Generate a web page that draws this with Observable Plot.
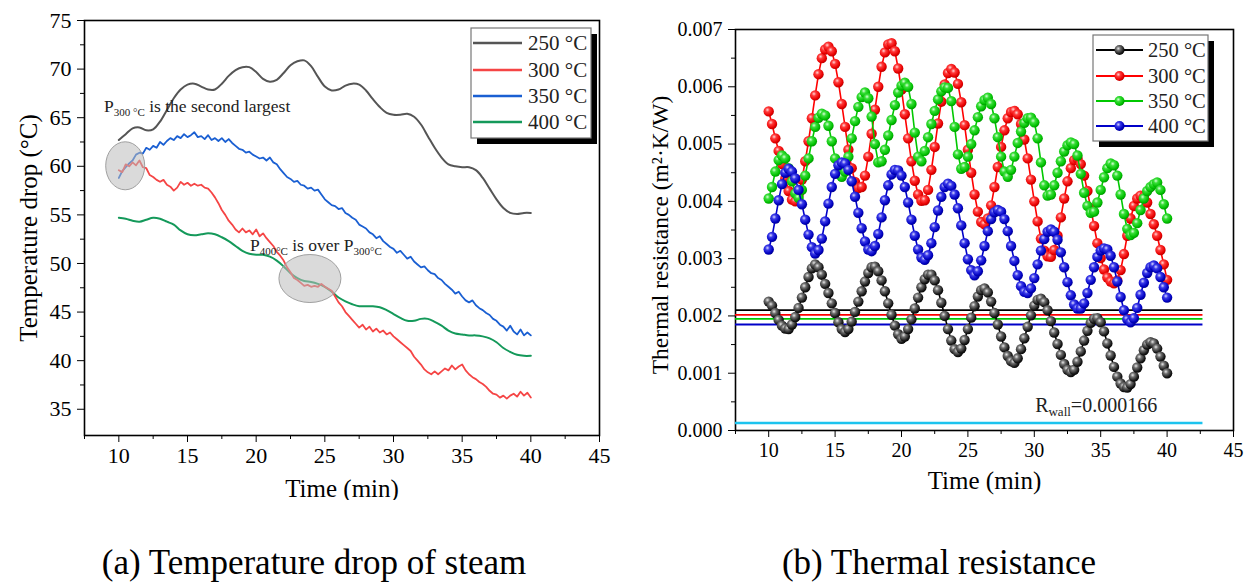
<!DOCTYPE html>
<html><head><meta charset="utf-8">
<script src="https://cdn.jsdelivr.net/npm/d3@7"></script>
<script src="https://cdn.jsdelivr.net/npm/@observablehq/plot@0.6"></script>
<style>
body{margin:0;background:#fff;}
#wrap{position:relative;width:1244px;height:583px;overflow:hidden;font-family:"Liberation Serif",serif;color:#000;background:#fff;}
#a{position:absolute;left:0;top:0;}
#b{position:absolute;left:630px;top:0;}
.cap{position:absolute;top:543px;font-size:35px;line-height:40px;white-space:nowrap;transform:translateX(-50%);}
</style></head>
<body>
<svg width="0" height="0" style="position:absolute"><defs>
<radialGradient id="gBlack" cx="0.38" cy="0.35" r="0.7"><stop offset="0" stop-color="#e8e8e8"/><stop offset="0.3" stop-color="#707070"/><stop offset="0.75" stop-color="#1a1a1a"/><stop offset="1" stop-color="#000"/></radialGradient>
<radialGradient id="gRed" cx="0.38" cy="0.35" r="0.7"><stop offset="0" stop-color="#ffd8d8"/><stop offset="0.3" stop-color="#ff3a3a"/><stop offset="0.75" stop-color="#e80000"/><stop offset="1" stop-color="#b00000"/></radialGradient>
<radialGradient id="gGreen" cx="0.38" cy="0.35" r="0.7"><stop offset="0" stop-color="#d8ffd8"/><stop offset="0.3" stop-color="#3ade3a"/><stop offset="0.75" stop-color="#00c000"/><stop offset="1" stop-color="#008a00"/></radialGradient>
<radialGradient id="gBlue" cx="0.38" cy="0.35" r="0.7"><stop offset="0" stop-color="#d8d8ff"/><stop offset="0.3" stop-color="#3a3ae8"/><stop offset="0.75" stop-color="#0000c0"/><stop offset="1" stop-color="#000088"/></radialGradient>
</defs></svg>
<div id="wrap">
<div id="a"></div><div id="b"></div>
<div class="cap" style="left:314px">(a) Temperature drop of steam</div>
<div class="cap" style="left:939px">(b) Thermal resistance</div>
</div>
<script>
// ---------- data ----------
const seriesLabels = ["250 °C", "300 °C", "350 °C", "400 °C"];
const tHalf = d3.range(61).map(i => 10 + i * 0.5);      // sampling times (min), 0.5 min step
const tQuarter = d3.range(121).map(i => 10 + i * 0.25); // sampling times (min), 0.25 min step

// (a) temperature drop (°C)
const drop250 = [62.7,63.3,63.9,64.0,63.7,63.8,64.6,65.8,67.0,67.9,68.4,68.5,68.2,67.9,67.9,68.5,69.3,69.9,70.2,70.2,69.7,69.0,68.7,68.9,69.6,70.4,70.8,70.9,70.3,69.2,68.2,67.8,67.9,68.3,68.5,68.4,67.8,66.9,66.1,65.5,65.3,65.3,65.4,65.1,64.3,63.1,61.9,60.9,60.2,60.0,59.9,59.9,59.6,58.8,57.7,56.6,55.7,55.2,55.1,55.2,55.2];
const drop300 = [59.6,59.4,60.2,60.0,60.4,60.1,60.6,59.9,
 59.8,59.1,58.9,58.6,58.4,58.6,58.1,57.9,
 57.5,57.8,58.4,58.1,58.3,58.0,58.2,58.0,
 58.1,57.8,57.7,57.3,56.8,56.2,55.5,55.0,
 54.4,54.0,53.5,53.2,53.6,53.2,53.4,53.0,
 53.5,52.8,53.1,52.6,52.2,51.8,51.2,50.8,
 50.3,49.6,49.1,48.5,48.3,48.0,47.7,47.8,
 47.6,47.7,47.6,47.9,47.6,47.4,47.2,46.6,
 46.0,45.6,45.0,44.6,44.2,43.8,43.4,43.7,
 43.2,43.5,43.0,43.3,42.9,43.1,42.7,42.9,
 42.5,42.2,41.9,41.6,41.3,41.0,40.4,40.0,
 39.6,39.1,38.8,38.6,38.9,38.6,38.9,39.2,
 39.0,39.5,39.1,39.4,39.6,39.0,38.6,38.3,
 38.1,37.8,37.6,37.3,36.9,36.6,36.5,36.2,
 36.4,36.1,36.4,36.6,36.3,36.8,36.4,36.7,
 36.2];
const drop350 = [58.8,59.5,59.9,60.3,60.6,61.2,61.4,61.3,
 61.9,61.7,62.1,61.9,62.5,62.2,62.6,62.9,
 62.7,63.1,62.9,63.3,63.0,63.2,63.5,63.0,
 63.1,62.8,63.2,62.7,62.9,62.6,62.9,62.5,
 62.8,62.4,62.1,61.8,61.7,61.4,61.5,61.2,
 61.0,60.8,60.9,60.6,60.9,60.4,60.2,59.7,
 59.3,58.9,58.7,58.4,58.5,58.1,58.0,57.7,
 57.8,57.5,57.6,57.1,56.6,56.3,56.0,55.9,
 55.6,55.7,55.2,55.0,54.7,54.5,54.0,53.8,
 53.6,53.2,53.0,52.6,52.8,52.3,52.0,51.7,
 51.5,51.1,51.3,50.9,50.5,50.7,50.2,49.9,
 49.6,49.7,49.3,49.0,48.9,48.5,48.3,47.9,
 47.6,47.3,46.9,47.1,46.6,46.2,46.0,46.2,
 45.7,45.4,45.2,44.9,44.7,44.3,44.1,43.7,
 43.5,43.1,43.6,43.0,42.7,43.2,42.6,42.9,
 42.6];
const drop400 = [54.7,54.6,54.4,54.3,54.5,54.7,54.6,54.3,54.0,53.4,53.0,52.9,53.0,53.1,53.0,52.7,52.3,51.8,51.3,51.0,50.9,50.9,50.7,50.3,49.7,49.0,48.5,48.2,48.1,47.9,47.6,47.1,46.5,46.1,45.8,45.6,45.6,45.6,45.5,45.2,44.8,44.4,44.1,44.1,44.3,44.3,44.0,43.6,43.1,42.8,42.7,42.6,42.6,42.5,42.3,41.9,41.3,40.9,40.6,40.5,40.5];

// (b) thermal resistance (m²·K/W)
const res250 = [0.00225,0.00218,0.00205,0.00193,0.00183,0.00178,0.00177,
 0.00185,0.00198,0.00214,0.00232,0.00250,0.00268,0.00283,0.00290,
 0.00285,0.00272,0.00256,0.00240,0.00222,0.00205,0.00189,0.00177,0.00172,
 0.00177,0.00190,0.00207,0.00225,0.00243,0.00260,0.00275,0.00285,0.00286,
 0.00278,0.00262,0.00243,0.00222,0.00202,0.00183,0.00168,0.00160,
 0.00164,0.00177,0.00194,0.00213,0.00232,0.00250,0.00264,0.00272,0.00272,
 0.00262,0.00245,0.00223,0.00200,0.00177,0.00157,0.00142,0.00137,
 0.00143,0.00158,0.00177,0.00197,0.00217,0.00234,0.00245,0.00248,
 0.00241,0.00225,0.00205,0.00185,0.00164,0.00145,0.00130,0.00121,0.00118,
 0.00126,0.00142,0.00161,0.00181,0.00201,0.00218,0.00228,0.00230,
 0.00224,0.00210,0.00191,0.00171,0.00151,0.00132,0.00116,0.00106,0.00102,
 0.00106,0.00120,0.00138,0.00157,0.00174,0.00188,0.00195,0.00196,
 0.00189,0.00173,0.00152,0.00131,0.00111,0.00094,0.00082,0.00076,0.00075,
 0.00081,0.00094,0.00110,0.00126,0.00140,0.00150,0.00154,0.00152,
 0.00143,0.00129,0.00113,0.00100];
const res300 = [0.00557,0.00535,0.00510,0.00488,0.00465,0.00440,0.00418,0.00403,0.00400,
 0.00412,0.00438,0.00470,0.00505,0.00545,0.00585,0.00622,0.00650,0.00665,0.00670,
 0.00662,0.00640,0.00608,0.00570,0.00530,0.00490,0.00458,0.00434,0.00423,0.00425,
 0.00445,0.00478,0.00518,0.00560,0.00600,0.00635,0.00660,0.00674,0.00676,
 0.00662,0.00632,0.00595,0.00552,0.00510,0.00470,0.00436,0.00412,0.00401,0.00402,
 0.00420,0.00455,0.00495,0.00536,0.00574,0.00604,0.00624,0.00631,
 0.00625,0.00605,0.00573,0.00533,0.00490,0.00450,0.00412,0.00382,0.00364,0.00360,
 0.00370,0.00393,0.00425,0.00460,0.00495,0.00524,0.00545,0.00556,0.00558,
 0.00552,0.00535,0.00508,0.00475,0.00438,0.00400,0.00365,0.00335,0.00314,0.00304,0.00303,
 0.00315,0.00340,0.00372,0.00405,0.00435,0.00458,0.00472,0.00475,
 0.00465,0.00445,0.00418,0.00388,0.00357,0.00327,0.00301,0.00281,0.00267,0.00260,0.00257,
 0.00262,0.00280,0.00308,0.00340,0.00370,0.00392,0.00405,0.00410,0.00408,
 0.00398,0.00378,0.00360,0.00340,0.00315,0.00290,0.00263];
const res350 = [0.00405,0.00425,0.00452,0.00472,0.00480,0.00475,0.00458,0.00435,0.00414,0.00406,
 0.00420,0.00445,0.00475,0.00505,0.00530,0.00546,0.00553,
 0.00550,0.00532,0.00505,0.00475,0.00452,0.00443,
 0.00452,0.00478,0.00510,0.00540,0.00565,0.00582,0.00590,
 0.00580,0.00548,0.00500,0.00468,0.00470,
 0.00490,0.00515,0.00542,0.00568,0.00590,0.00602,0.00607,0.00600,
 0.00570,0.00520,0.00478,0.00470,
 0.00488,0.00512,0.00535,0.00558,0.00578,0.00592,0.00599,0.00598,
 0.00575,0.00530,0.00482,0.00457,0.00460,
 0.00478,0.00500,0.00524,0.00547,0.00566,0.00577,0.00581,
 0.00570,0.00545,0.00512,0.00478,0.00452,0.00443,
 0.00455,0.00478,0.00502,0.00522,0.00537,0.00545,0.00546,0.00538,
 0.00510,0.00468,0.00428,0.00410,0.00412,
 0.00428,0.00450,0.00470,0.00487,0.00498,0.00503,0.00500,
 0.00480,0.00448,0.00415,0.00392,0.00380,0.00382,
 0.00398,0.00420,0.00442,0.00458,0.00466,0.00463,
 0.00445,0.00412,0.00378,0.00352,0.00341,0.00345,
 0.00362,0.00385,0.00405,0.00418,0.00425,0.00430,0.00433,
 0.00420,0.00395,0.00370];
const res400 = [0.00316,0.00338,0.00370,0.00402,0.00430,0.00450,0.00457,
 0.00452,0.00440,0.00420,0.00395,0.00368,0.00342,0.00320,0.00309,
 0.00315,0.00335,0.00365,0.00396,0.00425,0.00448,0.00463,0.00468,
 0.00466,0.00455,0.00435,0.00408,0.00380,0.00353,0.00330,0.00316,0.00313,
 0.00322,0.00343,0.00372,0.00402,0.00428,0.00447,0.00455,0.00454,
 0.00445,0.00425,0.00398,0.00368,0.00340,0.00316,0.00302,0.00298,
 0.00306,0.00327,0.00355,0.00384,0.00408,0.00425,0.00431,0.00427,
 0.00412,0.00388,0.00358,0.00327,0.00299,0.00280,0.00271,
 0.00278,0.00297,0.00322,0.00348,0.00369,0.00381,0.00385,0.00382,
 0.00369,0.00348,0.00322,0.00296,0.00271,0.00252,0.00242,0.00240,
 0.00248,0.00266,0.00290,0.00314,0.00334,0.00347,0.00351,
 0.00347,0.00333,0.00311,0.00285,0.00259,0.00236,0.00220,0.00213,0.00213,
 0.00222,0.00240,0.00263,0.00285,0.00303,0.00314,0.00318,0.00316,
 0.00305,0.00285,0.00260,0.00233,0.00210,0.00194,0.00189,
 0.00196,0.00214,0.00237,0.00258,0.00275,0.00285,0.00288,
 0.00283,0.00268,0.00250,0.00232];
const avgRes = [0.00210, 0.00202, 0.00195, 0.00185]; // horizontal reference levels, 250..400 °C
const avgSpan = [7.5, 42.7];
const rWallLevel = 0.00013;
const rWallSpan = [7.5, 42.7];

// ticks
const xMajor = [10, 15, 20, 25, 30, 35, 40, 45];
const xMinor = [7.5, 12.5, 17.5, 22.5, 27.5, 32.5, 37.5, 42.5];
const yMajorA = [35, 40, 45, 50, 55, 60, 65, 70, 75];
const yMinorA = [37.5, 42.5, 47.5, 52.5, 57.5, 62.5, 67.5, 72.5];
const yMajorB = [0, 0.001, 0.002, 0.003, 0.004, 0.005, 0.006, 0.007];
const yMinorB = [0.0005, 0.0015, 0.0025, 0.0035, 0.0045, 0.0055, 0.0065];

// text
const titlesA = {x: "Time (min)", y: "Temperature drop (°C)"};
const titlesB = {x: "Time (min)", y: "Thermal resistance (m²·K/W)"};
const annotA = [
  {t: 8.96, v: 65.55, parts: [["P", 0], ["300 °C", 1], [" is the second largest", 0]]},
  {t: 19.58, v: 51.2, parts: [["P", 0], ["400°C", 1], [" is over P", 0], ["300°C", 1]]}
];
const circlesA = [{t: 10.5, v: 60.0}, {t: 23.95, v: 48.4}];
const annotB = {t: 30.1, v: 0.000314, parts: [["R", 0], ["wall", 1], ["=0.000166", 0]]};

// ---------- styling ----------
const colA = ["#555555", "#f54545", "#1a5fd2", "#14995a"];
const colB = ["#000000", "#ff0000", "#00c800", "#0000c8"];
const gradB = ["url(#gBlack)", "url(#gRed)", "url(#gGreen)", "url(#gBlue)"];
const rows = (ts, vs) => vs.map((v, i) => ({t: ts[i], v}));
const font = "'Liberation Serif', 'Times New Roman', serif";

// ---------- chart (a) ----------
const chartA = Plot.plot({
  width: 620, height: 500,
  marginLeft: 84, marginRight: 21, marginTop: 20, marginBottom: 65,
  style: {fontFamily: font, fontSize: "22px", color: "#000", background: "transparent"},
  x: {domain: [7.5, 45]},
  y: {domain: [32.3, 75]},
  marks: [
    Plot.axisX({ticks: xMajor, tickSize: 7, tickPadding: 5, label: null, tickFormat: d => String(d)}),
    Plot.axisX({ticks: xMinor, tickSize: 4, label: null, tickFormat: () => ""}),
    Plot.axisY({ticks: yMajorA, tickSize: 7, tickPadding: 6, label: null, tickFormat: d => String(d)}),
    Plot.axisY({ticks: yMinorA, tickSize: 4, label: null, tickFormat: () => ""}),
    Plot.frame({stroke: "#000", strokeWidth: 1.6}),
    Plot.line(rows(tHalf, drop250), {x: "t", y: "v", stroke: colA[0], strokeWidth: 2, curve: "catmull-rom"}),
    Plot.line(rows(tHalf, drop400), {x: "t", y: "v", stroke: colA[3], strokeWidth: 2, curve: "catmull-rom"}),
    Plot.line(rows(tQuarter, drop350), {x: "t", y: "v", stroke: colA[2], strokeWidth: 1.8}),
    Plot.line(rows(tQuarter, drop300), {x: "t", y: "v", stroke: colA[1], strokeWidth: 1.8}),
    Plot.text([titlesA.x], {text: d => d, frameAnchor: "bottom", textAnchor: "middle", lineAnchor: "middle", dy: 53, fontSize: 25}),
    Plot.text([titlesA.y], {text: d => d, frameAnchor: "left", textAnchor: "middle", lineAnchor: "middle", dx: -56, rotate: -90, fontSize: 25})
  ]
});
document.getElementById("a").appendChild(chartA);

// ---------- chart (b) ----------
const marksB = [
  Plot.axisX({ticks: xMajor, tickSize: 7, tickPadding: 5, label: null, tickFormat: d => String(d)}),
  Plot.axisX({ticks: xMinor, tickSize: 4, label: null, tickFormat: () => ""}),
  Plot.axisY({ticks: yMajorB, tickSize: 7, tickPadding: 6, label: null, tickFormat: d3.format(".3f")}),
  Plot.axisY({ticks: yMinorB, tickSize: 4, label: null, tickFormat: () => ""}),
  Plot.frame({stroke: "#000", strokeWidth: 1.6}),
  Plot.ruleY([rWallLevel], {y: d => d, x1: rWallSpan[0], x2: rWallSpan[1], stroke: "#1cc3ee", strokeWidth: 2.6})
];
avgRes.forEach((v, i) => marksB.push(Plot.ruleY([v], {y: d => d, x1: avgSpan[0], x2: avgSpan[1], stroke: colB[i], strokeWidth: 1.8})));
[res250, res300, res350, res400].forEach((s, i) => {
  const r = rows(tQuarter, s);
  marksB.push(Plot.line(r, {x: "t", y: "v", stroke: colB[i], strokeWidth: 1.6}));
  marksB.push(Plot.dot(r, {x: "t", y: "v", r: 5.2, fill: gradB[i], stroke: "none"}));
});
marksB.push(Plot.text([titlesB.x], {text: d => d, frameAnchor: "bottom", textAnchor: "middle", lineAnchor: "middle", dy: 50, fontSize: 25}));
marksB.push(Plot.text([titlesB.y], {text: d => d, frameAnchor: "left", textAnchor: "middle", lineAnchor: "middle", dx: -75, dy: 5, rotate: -90, fontSize: 23.5}));

const chartB = Plot.plot({
  width: 614, height: 500,
  marginLeft: 105, marginRight: 11, marginTop: 29, marginBottom: 70,
  style: {fontFamily: font, fontSize: "20px", color: "#000", background: "transparent"},
  x: {domain: [7.5, 45]},
  y: {domain: [0, 0.007]},
  marks: marksB
});
document.getElementById("b").appendChild(chartB);

// ---------- annotations & legends ----------
function richText(g, x, y, parts, size, subSize) {
  const t = g.append("text").attr("x", x).attr("y", y).attr("font-size", size)
    .attr("font-family", font).attr("fill", "#222").attr("text-anchor", "start");
  let sub = 0;
  parts.forEach(([s, isSub]) => {
    const dy = isSub && !sub ? 4 : (!isSub && sub ? -4 : 0);
    t.append("tspan").attr("dy", dy).attr("font-size", isSub ? subSize : size).text(s);
    sub = isSub;
  });
}
function legend(svg, box, ys, lineX, textX, size, colors, dots) {
  const g = svg.append("g").attr("text-anchor", "start");
  g.append("rect").attr("x", box[0] + 6).attr("y", box[1] + 6).attr("width", box[2]).attr("height", box[3]).attr("fill", "#000");
  g.append("rect").attr("x", box[0]).attr("y", box[1]).attr("width", box[2]).attr("height", box[3]).attr("fill", "#fff").attr("stroke", "#777").attr("stroke-width", 1.2);
  seriesLabels.forEach((lab, i) => {
    g.append("line").attr("x1", lineX[0]).attr("x2", lineX[1]).attr("y1", ys[i]).attr("y2", ys[i]).attr("stroke", colors[i]).attr("stroke-width", dots ? 1.8 : 2.6);
    if (dots) g.append("circle").attr("cx", (lineX[0] + lineX[1]) / 2).attr("cy", ys[i]).attr("r", 5).attr("fill", dots[i]);
    g.append("text").attr("x", textX).attr("y", ys[i] + 7).attr("font-size", size).attr("font-family", font).attr("fill", "#222").attr("text-anchor", "start").text(lab);
  });
}
{
  const svg = d3.select(chartA);
  const sx = chartA.scale("x"), sy = chartA.scale("y");
  const g = svg.append("g");
  annotA.forEach(a => richText(g, sx.apply(a.t), sy.apply(a.v), a.parts, 17.5, 11));
  const radii = [[19.5, 24], [31, 24]];
  circlesA.forEach((c, i) => g.append("ellipse").attr("cx", sx.apply(c.t)).attr("cy", sy.apply(c.v))
    .attr("rx", radii[i][0]).attr("ry", radii[i][1]).attr("fill", "#bcbcbc").attr("fill-opacity", 0.55)
    .attr("stroke", "#a0a0a0").attr("stroke-width", 1));
  legend(svg, [471, 28, 120, 110], [43, 70, 96, 122], [473, 522], 528, 21, colA, null);
}
{
  const svg = d3.select(chartB);
  const sx = chartB.scale("x"), sy = chartB.scale("y");
  const g = svg.append("g");
  richText(g, sx.apply(annotB.t), sy.apply(annotB.v), annotB.parts, 20, 13);
  legend(svg, [463, 35, 115, 106], [50, 76, 101, 126], [466, 513], 518, 20.5, colB, gradB);
}
</script>
</body></html>
